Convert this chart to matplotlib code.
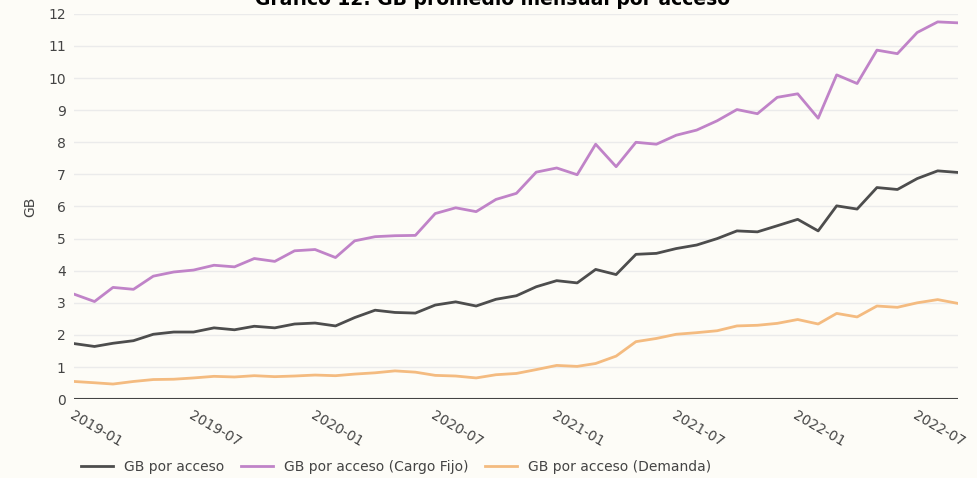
import pandas as pd
import matplotlib
matplotlib.use("Agg")
import matplotlib.pyplot as plt
import matplotlib.dates as mdates

# monthly series, 2019-01 .. 2022-09
months = pd.date_range("2019-01-01", periods=45, freq="MS")

gb_total = [1.73, 1.64, 1.74, 1.82, 2.02, 2.09, 2.09, 2.22, 2.16, 2.27,
            2.22, 2.34, 2.37, 2.28, 2.54, 2.77, 2.70, 2.68, 2.93, 3.03,
            2.90, 3.11, 3.22, 3.50, 3.69, 3.62, 4.04, 3.88, 4.51, 4.54,
            4.69, 4.80, 5.00, 5.24, 5.21, 5.40, 5.60, 5.24, 6.02, 5.92,
            6.59, 6.53, 6.87, 7.11, 7.06]

gb_fijo = [3.27, 3.04, 3.48, 3.42, 3.83, 3.96, 4.02, 4.17, 4.12, 4.38,
           4.29, 4.62, 4.66, 4.41, 4.93, 5.06, 5.09, 5.10, 5.78, 5.96,
           5.84, 6.22, 6.41, 7.07, 7.20, 6.99, 7.94, 7.24, 8.00, 7.94,
           8.22, 8.38, 8.67, 9.02, 8.89, 9.40, 9.51, 8.75, 10.10, 9.83,
           10.87, 10.76, 11.42, 11.75, 11.72]

gb_demanda = [0.55, 0.51, 0.47, 0.55, 0.61, 0.62, 0.66, 0.71, 0.69, 0.73,
              0.70, 0.72, 0.75, 0.73, 0.78, 0.82, 0.88, 0.84, 0.74, 0.72,
              0.66, 0.76, 0.80, 0.92, 1.05, 1.02, 1.11, 1.34, 1.79, 1.89,
              2.02, 2.07, 2.13, 2.28, 2.30, 2.36, 2.48, 2.34, 2.67, 2.56,
              2.90, 2.86, 3.00, 3.10, 2.98]

bg = "#fdfcf7"
fig = plt.figure(figsize=(9.78, 4.78), dpi=100, facecolor=bg)
ax = fig.add_axes([0.0757, 0.165, 0.904, 0.806], facecolor=bg)

ax.plot(months, gb_total, color="#4d4d4d", lw=2, label="GB por acceso")
ax.plot(months, gb_fijo, color="#c083c8", lw=2, label="GB por acceso (Cargo Fijo)")
ax.plot(months, gb_demanda, color="#f4bb80", lw=2, label="GB por acceso (Demanda)")

ax.set_xlim(months[0], months[-1])
ax.set_ylim(0, 12)
ax.set_yticks(range(0, 13))
ax.grid(axis="y", color="#ebebeb", lw=1)
ax.set_axisbelow(True)
ax.axhline(0, color="#444444", lw=1.5, zorder=3)
for s in ax.spines.values():
    s.set_visible(False)

ax.xaxis.set_major_locator(mdates.MonthLocator(bymonth=[1, 7]))
ax.xaxis.set_major_formatter(mdates.DateFormatter("%Y-%m"))
ax.tick_params(length=0, labelsize=10, colors="#444444")
ax.tick_params(axis="y", pad=6)
ax.tick_params(axis="x", pad=7)
plt.setp(ax.get_xticklabels(), rotation=-30, ha="left", rotation_mode="anchor")

ax.set_ylabel("GB", fontsize=10, color="#444444", labelpad=8)

fig.text(0.504, 1 - 5 / 478, "Gráfico 12: GB promedio mensual por acceso",
         ha="center", va="baseline", fontsize=13.5, fontweight="bold")

fig.legend(loc="lower left", bbox_to_anchor=(0.07, -0.018), ncol=3,
           frameon=False, fontsize=10, handlelength=2.3, columnspacing=1.2,
           labelcolor="#444444")

fig.savefig("out.png", dpi=100, facecolor=bg)
